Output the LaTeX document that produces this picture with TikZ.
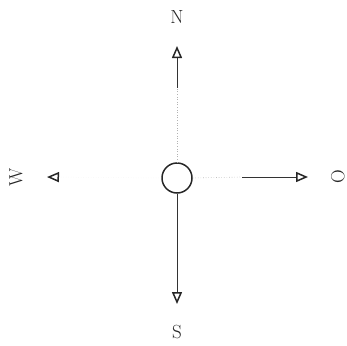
\documentclass[tikz,border=0pt]{standalone}
\usetikzlibrary{arrows.meta}
\begin{document}
\begin{tikzpicture}[x=1pt, y=-1pt]
        \tikzstyle{tip}=[-{Triangle[open, length=12pt, width=10pt, line width=1.5pt, color=black!85]}]
        \tikzstyle{shaft}=[black!80, line width=0.7pt]
        \tikzstyle{faint}=[black!30, line width=0.6pt, dotted]
        \tikzstyle{ghost}=[black!5, line width=0.5pt, dotted]
        \tikzstyle{point}=[font=\fontsize{19}{22}\selectfont, text=black!85, inner sep=0pt]
        \useasboundingbox (0,0) rectangle (347,345);
        % centre of the rose
        \node[circle, draw=black!85, line width=1.5pt, minimum size=30pt, inner sep=0pt] (rose) at (177,178) {};
        % arrow ends
        \coordinate (nmid) at (177,88);
        \coordinate (ntip) at (177,46);
        \coordinate (stip) at (177,304);
        \coordinate (emid) at (242,177);
        \coordinate (etip) at (308,177);
        \coordinate (wtip) at (47,177);
        \draw[faint] (rose.north) -- (nmid);
        \draw[shaft, tip] (nmid) -- (ntip);
        \draw[shaft, tip] (rose.south) -- (stip);
        \draw[faint] (rose.east) -- (emid);
        \draw[shaft, tip] (emid) -- (etip);
        \draw[ghost, tip] (rose.west) -- (wtip);
        % labels
        \node[point] (nlab) at (177,17) {N};
        \node[point] (slab) at (177,332) {S};
        \node[point, rotate=90] (olab) at (338,177) {O};
        \node[point, rotate=90] (wlab) at (16,177) {W};
    \end{tikzpicture}
\end{document}
